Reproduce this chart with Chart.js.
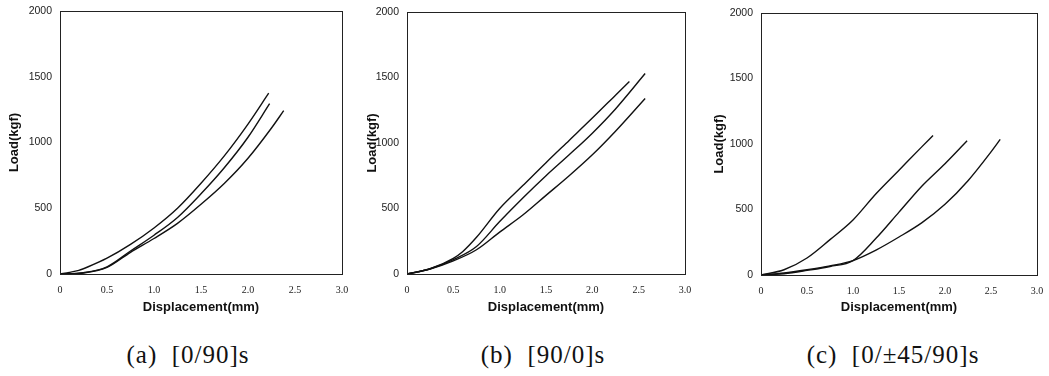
<!DOCTYPE html>
<html>
<head>
<meta charset="utf-8">
<script src="https://cdn.jsdelivr.net/npm/chart.js@4/dist/chart.umd.min.js"></script>
<style>
  html, body { margin: 0; padding: 0; background: #fff; }
  body { width: 1049px; height: 376px; position: relative; overflow: hidden; }
  .panel { position: absolute; top: 0; height: 320px; }
  .caption {
    position: absolute; top: 341px; transform: translateX(-50%);
    font-family: "Liberation Serif", serif; font-size: 25px; letter-spacing: 1px;
    color: #111; white-space: pre;
  }
</style>
</head>
<body>
<div class="panel" style="left:0;width:350px"><canvas id="chartA" width="350" height="320"></canvas></div>
<div class="panel" style="left:350px;width:350px"><canvas id="chartB" width="350" height="320"></canvas></div>
<div class="panel" style="left:700px;width:349px"><canvas id="chartC" width="349" height="320"></canvas></div>
<div class="caption" style="left:188px">(a)  [0/90]s</div>
<div class="caption" style="left:543px">(b)  [90/0]s</div>
<div class="caption" style="left:893px">(c)  [0/±45/90]s</div>
<script>
// displacement (mm) / load (kgf)
const dispA1 = [0, 0.1, 0.2, 0.3, 0.5, 0.75, 1.0, 1.25, 1.5, 1.75, 2.0, 2.22]
const loadA1 = [0, 12, 28, 55, 120, 225, 350, 500, 690, 900, 1140, 1375]
const dispA2 = [0, 0.25, 0.5, 0.75, 1.0, 1.25, 1.5, 1.75, 2.0, 2.23]
const loadA2 = [0, 10, 55, 175, 295, 430, 610, 810, 1040, 1295]
const dispA3 = [0, 0.25, 0.5, 0.75, 1.0, 1.25, 1.5, 1.75, 2.0, 2.25, 2.38]
const loadA3 = [0, 8, 50, 165, 270, 385, 530, 690, 880, 1110, 1242]

const dispB1 = [0, 0.25, 0.5, 0.6, 0.75, 1.0, 1.25, 1.5, 1.75, 2.0, 2.25, 2.4]
const loadB1 = [0, 40, 120, 170, 280, 500, 675, 850, 1020, 1190, 1365, 1470]
const dispB2 = [0, 0.25, 0.5, 0.75, 1.0, 1.25, 1.5, 1.75, 2.0, 2.25, 2.57]
const loadB2 = [0, 40, 110, 210, 400, 580, 750, 910, 1075, 1260, 1530]
const dispB3 = [0, 0.25, 0.5, 0.75, 1.0, 1.25, 1.5, 1.75, 2.0, 2.25, 2.57]
const loadB3 = [0, 38, 100, 185, 320, 450, 600, 750, 910, 1090, 1340]

const dispC1 = [0, 0.25, 0.5, 0.75, 1.0, 1.25, 1.5, 1.75, 1.87]
const loadC1 = [0, 40, 130, 270, 420, 620, 800, 980, 1065]
const dispC2 = [0, 0.25, 0.5, 0.75, 1.0, 1.25, 1.5, 1.75, 2.0, 2.24]
const loadC2 = [0, 10, 35, 65, 110, 280, 480, 680, 850, 1025]
const dispC3 = [0, 0.25, 0.5, 0.75, 1.0, 1.25, 1.5, 1.75, 2.0, 2.25, 2.5, 2.6]
const loadC3 = [0, 15, 40, 70, 110, 190, 290, 400, 540, 720, 940, 1035]

const xTicks = [0, 0.5, 1.0, 1.5, 2.0, 2.5, 3.0]
const yTicks = [0, 500, 1000, 1500, 2000]

const pairs = (xs, ys) => xs.map((x, i) => ({ x: x, y: ys[i] }))

const frame = {
  id: "frame",
  afterDraw(chart) {
    const { ctx, chartArea: a } = chart
    ctx.save()
    ctx.strokeStyle = "#222"
    ctx.lineWidth = 1
    ctx.strokeRect(Math.round(a.left) + 0.5, Math.round(a.top) + 0.5,
      Math.round(a.right - a.left), Math.round(a.bottom - a.top))
    ctx.restore()
  }
}

function makeChart(id, curves, pad, yWidth, xHeight) {
  return new Chart(document.getElementById(id), {
    type: "scatter",
    data: {
      datasets: curves.map(c => ({
        data: pairs(c[0], c[1]),
        showLine: true,
        borderColor: "#111",
        borderWidth: 1.4,
        pointRadius: 0,
        cubicInterpolationMode: "monotone"
      }))
    },
    options: {
      responsive: false,
      animation: false,
      layout: { padding: pad },
      plugins: { legend: { display: false }, tooltip: { enabled: false } },
      scales: {
        x: {
          type: "linear", min: 0, max: 3,
          afterBuildTicks: s => { s.ticks = xTicks.map(v => ({ value: v })) },
          afterFit: s => { s.height = xHeight; s.paddingLeft = 0; s.paddingRight = 0 },
          grid: { display: false, drawTicks: false },
          border: { display: false },
          ticks: {
            padding: 10, color: "#222",
            font: { family: "Liberation Serif", size: 10 },
            callback: v => v === 0 ? "0" : v.toFixed(1)
          },
          title: {
            display: true, text: "Displacement(mm)", color: "#111",
            padding: { top: 0, bottom: 5 },
            font: { family: "Liberation Sans", size: 13, weight: "bold" }
          }
        },
        y: {
          type: "linear", min: 0, max: 2000,
          afterBuildTicks: s => { s.ticks = yTicks.map(v => ({ value: v })) },
          afterFit: s => { s.width = yWidth; s.paddingTop = 0; s.paddingBottom = 0 },
          grid: { display: false, drawTicks: false },
          border: { display: false },
          ticks: {
            padding: 8, color: "#222",
            font: { family: "Liberation Sans", size: 10.5 },
            callback: v => String(v)
          },
          title: {
            display: true, text: "Load(kgf)", color: "#111",
            padding: 0,
            font: { family: "Liberation Sans", size: 13, weight: "bold" }
          }
        }
      }
    },
    plugins: [frame]
  })
}

makeChart("chartA", [[dispA1, loadA1], [dispA2, loadA2], [dispA3, loadA3]],
  { left: 7, right: 8, top: 11, bottom: 0 }, 53, 46)
makeChart("chartB", [[dispB1, loadB1], [dispB2, loadB2], [dispB3, loadB3]],
  { left: 15, right: 15, top: 12, bottom: 0 }, 42, 46)
makeChart("chartC", [[dispC1, loadC1], [dispC2, loadC2], [dispC3, loadC3]],
  { left: 12, right: 12, top: 13, bottom: 0 }, 49, 45)
</script>
</body>
</html>
